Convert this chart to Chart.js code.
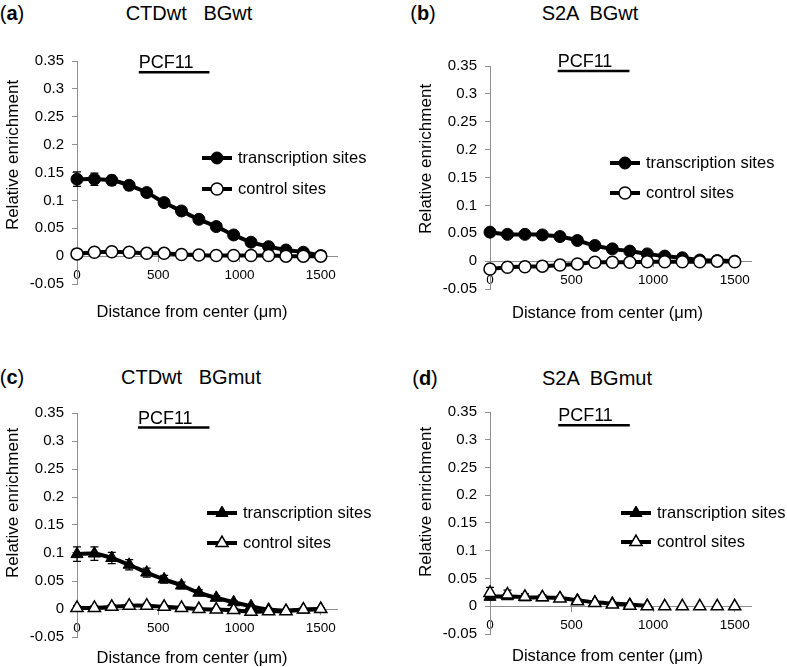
<!DOCTYPE html>
<html>
<head>
<meta charset="utf-8">
<script src="https://cdn.jsdelivr.net/npm/chart.js@4/dist/chart.umd.min.js"></script>
<style>
body { margin: 0; background: #fff; }
#wrap { position: relative; width: 787px; height: 667px; font-family: "Liberation Sans", Arial, sans-serif; color: #000; }
canvas { position: absolute; }
.letter, .head { position: absolute; font-size: 20px; transform: translate(-50%, -50%); white-space: pre; }
.letter b { font-weight: bold; }
</style>
</head>
<body>
<div id="wrap"></div>
<script>
'use strict';

// distance of each measurement from the site centre (um)
var distance = [0, 107, 214, 321, 429, 536, 643, 750, 857, 964, 1071, 1179, 1286, 1393, 1500];
var xTickValues = [0, 500, 1000, 1500];
var yTickValues = [-0.05, 0, 0.05, 0.1, 0.15, 0.2, 0.25, 0.3, 0.35];
var seriesNames = ['transcription sites', 'control sites'];
var xAxisTitle = 'Distance from center (\u03bcm)';
var yAxisTitle = 'Relative enrichment';

var panelLetters = ['a', 'b', 'c', 'd'];
var panelTitles = ['CTDwt   BGwt', 'S2A  BGwt', 'CTDwt   BGmut', 'S2A  BGmut'];

// PCF11 gene bar (start, end in um, level in enrichment units)
var pcfStart = [380, 415, 375, 418];
var pcfEnd = [815, 855, 815, 857];
var pcfLevel = [0.330, 0.341, 0.324, 0.326];

// (a) CTDwt BGwt
var aTx = [0.138, 0.138, 0.136, 0.127, 0.114, 0.096, 0.081, 0.066, 0.053, 0.038, 0.025, 0.017, 0.011, 0.007, 0.001];
var aTxErr = [0.013, 0.011, 0.009, 0.008, 0.007, 0.006, 0.005, 0.004, 0.004, 0.003, 0.003, 0.002, 0.002, 0.002, 0.001];
var aCtl = [0.004, 0.007, 0.008, 0.007, 0.005, 0.005, 0.003, 0.002, 0.001, 0.001, 0.001, 0.001, 0.0, 0.0, 0.0];
var aCtlErr = [0.002, 0.002, 0.002, 0.002, 0.002, 0.002, 0.001, 0.001, 0.001, 0.001, 0.001, 0.001, 0.001, 0.001, 0.001];

// (b) S2A BGwt
var bTx = [0.052, 0.048, 0.048, 0.047, 0.044, 0.037, 0.028, 0.022, 0.018, 0.013, 0.009, 0.006, 0.002, 0.001, 0.0];
var bTxErr = [0.004, 0.003, 0.003, 0.003, 0.003, 0.003, 0.002, 0.002, 0.002, 0.002, 0.002, 0.001, 0.001, 0.001, 0.001];
var bCtl = [-0.014, -0.011, -0.010, -0.009, -0.007, -0.005, -0.002, -0.002, -0.002, -0.001, -0.001, -0.001, -0.001, 0.0, -0.001];
var bCtlErr = [0.003, 0.002, 0.002, 0.002, 0.002, 0.002, 0.001, 0.001, 0.001, 0.001, 0.001, 0.001, 0.001, 0.001, 0.001];

// (c) CTDwt BGmut
var cTx = [0.098, 0.099, 0.091, 0.079, 0.065, 0.053, 0.042, 0.029, 0.020, 0.012, 0.005, -0.001, -0.003, -0.001, 0.0];
var cTxErr = [0.013, 0.012, 0.010, 0.009, 0.008, 0.007, 0.006, 0.005, 0.004, 0.003, 0.002, 0.002, 0.002, 0.001, 0.001];
var cCtl = [0.002, 0.002, 0.004, 0.006, 0.006, 0.004, 0.002, 0.0, -0.001, -0.002, -0.005, -0.004, -0.004, -0.001, 0.0];
var cCtlErr = [0.004, 0.004, 0.004, 0.004, 0.004, 0.003, 0.003, 0.003, 0.003, 0.003, 0.003, 0.003, 0.002, 0.002, 0.002];

// (d) S2A BGmut
var dTx = [0.017, 0.018, 0.016, 0.016, 0.015, 0.011, 0.007, 0.005, 0.003, 0.001, null, null, null, null, null];
var dTxErr = [0.005, 0.004, 0.004, 0.003, 0.003, 0.003, 0.002, 0.002, 0.002, 0.001, 0, 0, 0, 0, 0];
var dCtl = [0.024, 0.021, 0.017, 0.016, 0.014, 0.009, 0.006, 0.003, 0.001, 0.0, 0.0, 0.0, 0.0, 0.0, 0.0];
var dCtlErr = [0.010, 0.008, 0.006, 0.005, 0.004, 0.003, 0.002, 0.002, 0.001, 0.001, 0, 0, 0, 0, 0];

var FONT = '"Liberation Sans", Arial, sans-serif';
var AXIS = '#8f8f8f';

function points(vals) {
    return distance.map(function (d, i) { return {x: d, y: vals[i]}; });
}

function drawMarker(ctx, style, r, x, y) {
    ctx.beginPath();
    if (style === 'triangle') {
        var a = 0;
        ctx.moveTo(x + Math.sin(a) * r, y - Math.cos(a) * r);
        a += Math.PI * 2 / 3;
        ctx.lineTo(x + Math.sin(a) * r, y - Math.cos(a) * r);
        a += Math.PI * 2 / 3;
        ctx.lineTo(x + Math.sin(a) * r, y - Math.cos(a) * r);
        ctx.closePath();
    } else {
        ctx.arc(x, y, r, 0, Math.PI * 2);
    }
    ctx.fill();
    ctx.stroke();
}

var errorBars = {
    id: 'errorBars',
    beforeDatasetsDraw: function (chart) {
        var ctx = chart.ctx, xs = chart.scales.x, ys = chart.scales.y;
        ctx.save();
        ctx.strokeStyle = '#000';
        ctx.lineWidth = 1.2;
        chart.data.datasets.forEach(function (ds) {
            if (!ds.yErr) return;
            ds.data.forEach(function (p, i) {
                var e = ds.yErr[i];
                if (p.y == null || !e) return;
                var x = xs.getPixelForValue(p.x);
                var top = ys.getPixelForValue(p.y + e);
                var bot = ys.getPixelForValue(p.y - e);
                ctx.beginPath();
                ctx.moveTo(x, top); ctx.lineTo(x, bot);
                ctx.moveTo(x - 4, top); ctx.lineTo(x + 4, top);
                ctx.moveTo(x - 4, bot); ctx.lineTo(x + 4, bot);
                ctx.stroke();
            });
        });
        ctx.restore();
    }
};

var geneBar = {
    id: 'geneBar',
    afterDatasetsDraw: function (chart, args, opts) {
        var ctx = chart.ctx, xs = chart.scales.x, ys = chart.scales.y;
        var x0 = xs.getPixelForValue(opts.from);
        var x1 = xs.getPixelForValue(opts.to);
        var y = ys.getPixelForValue(opts.level);
        ctx.save();
        ctx.strokeStyle = '#000';
        ctx.lineWidth = 2.5;
        ctx.beginPath(); ctx.moveTo(x0, y); ctx.lineTo(x1, y); ctx.stroke();
        ctx.fillStyle = '#000';
        ctx.font = '18px ' + FONT;
        ctx.textBaseline = 'alphabetic';
        ctx.textAlign = 'left';
        ctx.fillText(opts.label, x0, y - 4);
        ctx.restore();
    }
};

var insideLegend = {
    id: 'insideLegend',
    afterDraw: function (chart, args, opts) {
        var ctx = chart.ctx;
        ctx.save();
        chart.data.datasets.forEach(function (ds, k) {
            var y = opts.y + k * opts.rowGap;
            ctx.strokeStyle = '#000';
            ctx.lineWidth = ds.borderWidth;
            ctx.beginPath(); ctx.moveTo(opts.x, y); ctx.lineTo(opts.x + 30, y); ctx.stroke();
            ctx.fillStyle = ds.pointBackgroundColor;
            ctx.lineWidth = ds.pointBorderWidth;
            drawMarker(ctx, ds.pointStyle, ds.pointRadius, opts.x + 15, y);
            ctx.fillStyle = '#000';
            ctx.font = '16.5px ' + FONT;
            ctx.textBaseline = 'middle';
            ctx.fillText(ds.label, opts.x + 36, y);
        });
        ctx.restore();
    }
};

// axis captions, placed like the figure's text boxes
var captions = {
    id: 'captions',
    afterDraw: function (chart, args, opts) {
        var ctx = chart.ctx;
        ctx.save();
        ctx.fillStyle = '#000';
        ctx.textAlign = 'center';
        ctx.textBaseline = 'middle';
        ctx.font = '16.5px ' + FONT;
        ctx.fillText(opts.xText, opts.xCx, opts.xCy);
        ctx.font = '17px ' + FONT;
        ctx.translate(opts.yCx, opts.yCy);
        ctx.rotate(-Math.PI / 2);
        ctx.fillText(opts.yText, 0, 0);
        ctx.restore();
    }
};

var panels = [
    {left: 0, top: 30, h: 300, tx: aTx, txErr: aTxErr, ctl: aCtl, ctlErr: aCtlErr, marker: 'circle',
     pad: {left: 0, right: 56, top: 31, bottom: 46}, yWidth: 77,
     cap: {xCx: 192, xCy: 282, yCx: 13.5, yCy: 125},
     legend: {x: 202, y: 128, rowGap: 31}, ctlLine: true},
    {left: 394, top: 30, h: 300, tx: bTx, txErr: bTxErr, ctl: bCtl, ctlErr: bCtlErr, marker: 'circle',
     pad: {left: 0, right: 36, top: 36, bottom: 41}, yWidth: 96,
     cap: {xCx: 213.5, xCy: 283.5, yCx: 32.7, yCy: 129},
     legend: {x: 216, y: 133, rowGap: 30}, ctlLine: true},
    {left: 0, top: 360, h: 307, tx: cTx, txErr: cTxErr, ctl: cCtl, ctlErr: cCtlErr, marker: 'triangle',
     pad: {left: 0, right: 56, top: 53, bottom: 30}, yWidth: 77,
     cap: {xCx: 192, xCy: 298.5, yCx: 13.3, yCy: 143},
     legend: {x: 207, y: 153, rowGap: 30}, ctlLine: true},
    {left: 394, top: 360, h: 307, tx: dTx, txErr: dTxErr, ctl: dCtl, ctlErr: dCtlErr, marker: 'triangle',
     pad: {left: 0, right: 36, top: 52, bottom: 33}, yWidth: 96,
     cap: {xCx: 213.5, xCy: 296.7, yCx: 32.7, yCy: 142},
     legend: {x: 227, y: 153, rowGap: 29}, ctlLine: false}
];

var headPos = [
    {lx: 12, tx: 189, y: 13},
    {lx: 423, tx: 590, y: 13},
    {lx: 12, tx: 191, y: 377},
    {lx: 425, tx: 597, y: 378}
];

var wrap = document.getElementById('wrap');

panels.forEach(function (p, n) {
    var let_ = document.createElement('div');
    let_.className = 'letter';
    let_.style.left = headPos[n].lx + 'px';
    let_.style.top = headPos[n].y + 'px';
    let_.innerHTML = '(<b>' + panelLetters[n] + '</b>)';
    wrap.appendChild(let_);

    var head = document.createElement('div');
    head.className = 'head';
    head.style.left = headPos[n].tx + 'px';
    head.style.top = headPos[n].y + 'px';
    head.textContent = panelTitles[n];
    wrap.appendChild(head);

    var cv = document.createElement('canvas');
    cv.width = 393; cv.height = p.h;
    cv.style.left = p.left + 'px';
    cv.style.top = p.top + 'px';
    cv.style.width = '393px';
    cv.style.height = p.h + 'px';
    wrap.appendChild(cv);

    var r = p.marker === 'triangle' ? 7 : 6;

    new Chart(cv.getContext('2d'), {
        type: 'line',
        data: {
            datasets: [{
                label: seriesNames[0],
                data: points(p.tx),
                yErr: p.txErr,
                borderColor: '#000',
                borderWidth: 4,
                pointStyle: p.marker,
                pointRadius: r,
                pointBackgroundColor: '#000',
                pointBorderColor: '#000',
                pointBorderWidth: 1,
                tension: 0.3,
                clip: false,
                order: 1
            }, {
                label: seriesNames[1],
                data: points(p.ctl),
                yErr: p.ctlErr,
                borderColor: '#000',
                borderWidth: 4,
                showLine: p.ctlLine,
                pointStyle: p.marker,
                pointRadius: r,
                pointBackgroundColor: '#fff',
                pointBorderColor: '#000',
                pointBorderWidth: 1.5,
                tension: 0.3,
                clip: false,
                order: 0
            }]
        },
        options: {
            responsive: false,
            animation: false,
            layout: {padding: p.pad},
            scales: {
                x: {
                    type: 'linear',
                    min: 0,
                    max: 1600,
                    position: {y: 0},
                    afterBuildTicks: function (s) {
                        s.ticks = xTickValues.map(function (v) { return {value: v}; });
                    },
                    grid: {drawOnChartArea: false, drawTicks: true, tickLength: 5, color: AXIS},
                    border: {display: true, color: AXIS, width: 1},
                    ticks: {
                        color: '#000',
                        font: {family: FONT, size: 13.5},
                        padding: 6,
                        maxRotation: 0,
                        callback: function (v) { return String(v); }
                    }
                },
                y: {
                    type: 'linear',
                    min: -0.05,
                    max: 0.35,
                    afterBuildTicks: function (s) {
                        s.ticks = yTickValues.map(function (v) { return {value: v}; });
                    },
                    afterFit: function (s) { s.width = p.yWidth; },
                    grid: {drawOnChartArea: false, drawTicks: true, tickLength: 5, color: AXIS},
                    border: {display: true, color: AXIS, width: 1},
                    ticks: {
                        color: '#000',
                        font: {family: FONT, size: 15},
                        padding: 8,
                        callback: function (v) { return String(Number(Number(v).toFixed(2))); }
                    }
                }
            },
            plugins: {
                legend: {display: false},
                tooltip: {enabled: false},
                captions: Object.assign({xText: xAxisTitle, yText: yAxisTitle}, p.cap),
                geneBar: {from: pcfStart[n], to: pcfEnd[n], level: pcfLevel[n], label: 'PCF11'},
                insideLegend: p.legend
            }
        },
        plugins: [errorBars, geneBar, insideLegend, captions]
    });
});
</script>
</body>
</html>
